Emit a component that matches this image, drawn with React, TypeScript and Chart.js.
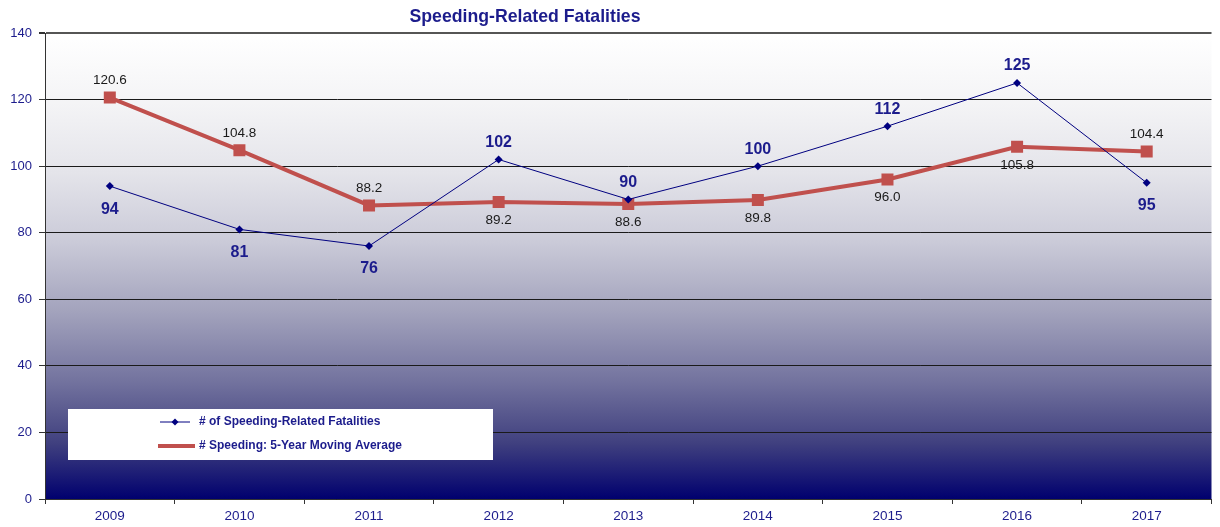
import React, { useEffect, useRef } from 'react';
import { Chart, registerables } from 'chart.js';

Chart.register(...registerables);

const years = ['2009', '2010', '2011', '2012', '2013', '2014', '2015', '2016', '2017'];
const fatalities = [94, 81, 76, 102, 90, 100, 112, 125, 95];
const movingAverage = [120.6, 104.8, 88.2, 89.2, 88.6, 89.8, 96.0, 105.8, 104.4];
const yMin = 0;
const yMax = 140;
const yStep = 20;
const titleText = 'Speeding-Related Fatalities';
const seriesNames = ['# of Speeding-Related Fatalities', '# Speeding: 5-Year Moving Average'];

const NAVY = '#000080';
const RED = '#c0504d';
const TEXT_NAVY = '#1c1c8c';
const FONT = '"Liberation Sans", Arial, sans-serif';

const bgPlugin = {
  id: 'bgGradient',
  beforeDraw(chart: any) {
    const { ctx, chartArea, width, height } = chart;
    ctx.save();
    ctx.fillStyle = '#ffffff';
    ctx.fillRect(0, 0, width, height);
    const g = ctx.createLinearGradient(0, chartArea.top, 0, chartArea.bottom);
    g.addColorStop(0, '#ffffff');
    g.addColorStop(0.15, '#f4f4f6');
    g.addColorStop(0.3, '#e4e4ea');
    g.addColorStop(0.45, '#cacad8');
    g.addColorStop(0.6, '#a2a2bc');
    g.addColorStop(0.75, '#72729e');
    g.addColorStop(0.88, '#40407f');
    g.addColorStop(1, '#00006e');
    ctx.fillStyle = g;
    ctx.fillRect(chartArea.left, chartArea.top, chartArea.right - chartArea.left, chartArea.bottom - chartArea.top);
    ctx.restore();
  },
};

const labelPlugin = {
  id: 'pointLabels',
  afterDatasetsDraw(chart: any) {
    const { ctx } = chart;
    const m0 = chart.getDatasetMeta(0);
    const m1 = chart.getDatasetMeta(1);
    ctx.save();
    ctx.textAlign = 'center';
    ctx.textBaseline = 'middle';
    m0.data.forEach((pt: any, i: number) => {
      const above = fatalities[i] > movingAverage[i];
      ctx.font = `bold 16px ${FONT}`;
      ctx.fillStyle = TEXT_NAVY;
      ctx.fillText(String(fatalities[i]), pt.x, above ? pt.y - 17 : pt.y + 23);
    });
    m1.data.forEach((pt: any, i: number) => {
      const above = movingAverage[i] > fatalities[i];
      ctx.font = `13.5px ${FONT}`;
      ctx.fillStyle = '#1a1a1a';
      ctx.fillText(movingAverage[i].toFixed(1), pt.x, above ? pt.y - 17 : pt.y + 18);
    });
    ctx.restore();
  },
};

const titleLegendPlugin = {
  id: 'titleLegend',
  afterDraw(chart: any) {
    const { ctx, chartArea } = chart;
    ctx.save();
    // title
    ctx.font = `bold 17.7px ${FONT}`;
    ctx.fillStyle = TEXT_NAVY;
    ctx.textAlign = 'center';
    ctx.textBaseline = 'middle';
    ctx.fillText(titleText, 525, 17);

    // legend box
    const bx = chartArea.left + 23;
    const by = chartArea.bottom - 90;
    const bw = 425;
    const bh = 51;
    ctx.fillStyle = '#ffffff';
    ctx.fillRect(bx, by, bw, bh);

    const y1 = by + 13;
    const y2 = by + 37;
    const lx = bx + 92;
    // series 1
    ctx.strokeStyle = NAVY;
    ctx.lineWidth = 1;
    ctx.beginPath();
    ctx.moveTo(lx, y1);
    ctx.lineTo(lx + 30, y1);
    ctx.stroke();
    ctx.fillStyle = NAVY;
    ctx.beginPath();
    ctx.moveTo(lx + 15, y1 - 3.5);
    ctx.lineTo(lx + 18.5, y1);
    ctx.lineTo(lx + 15, y1 + 3.5);
    ctx.lineTo(lx + 11.5, y1);
    ctx.closePath();
    ctx.fill();
    // series 2
    ctx.strokeStyle = RED;
    ctx.lineWidth = 4;
    ctx.beginPath();
    ctx.moveTo(lx - 2, y2);
    ctx.lineTo(lx + 35, y2);
    ctx.stroke();

    ctx.font = `bold 12px ${FONT}`;
    ctx.fillStyle = TEXT_NAVY;
    ctx.textAlign = 'left';
    ctx.fillText(seriesNames[0], lx + 39, y1);
    ctx.fillText(seriesNames[1], lx + 39, y2);
    ctx.restore();
  },
};

export default function App() {
  const canvasRef = useRef<HTMLCanvasElement | null>(null);

  useEffect(() => {
    document.body.style.margin = '0';
    const canvas = canvasRef.current;
    if (!canvas) return;
    const chart = new Chart(canvas, {
      type: 'line',
      data: {
        labels: years,
        datasets: [
          {
            label: seriesNames[0],
            data: fatalities,
            borderColor: NAVY,
            backgroundColor: NAVY,
            borderWidth: 1,
            pointStyle: 'rectRot',
            pointRadius: 4,
            pointBorderWidth: 0,
            pointBackgroundColor: NAVY,
            tension: 0,
            order: 1,
          },
          {
            label: seriesNames[1],
            data: movingAverage,
            borderColor: RED,
            backgroundColor: RED,
            borderWidth: 4,
            pointStyle: 'rect',
            pointRadius: 8.5,
            pointBorderWidth: 0,
            pointBackgroundColor: RED,
            tension: 0,
            order: 2,
          },
        ],
      },
      options: {
        animation: false,
        responsive: true,
        maintainAspectRatio: false,
        layout: { padding: { top: 33, right: 5, left: 0, bottom: 0 } },
        plugins: {
          legend: { display: false },
          title: { display: false },
          tooltip: { enabled: false },
        },
        scales: {
          x: {
            offset: true,
            grid: {
              offset: true,
              drawOnChartArea: false,
              drawTicks: true,
              tickLength: 5,
              color: '#333333',
            },
            border: { display: true, color: '#333333', width: 1 },
            ticks: {
              color: TEXT_NAVY,
              font: { family: FONT, size: 13.5 },
              padding: 4,
            },
            afterFit(scale: any) {
              scale.height = 28;
            },
          },
          y: {
            min: yMin,
            max: yMax,
            ticks: {
              stepSize: yStep,
              color: TEXT_NAVY,
              font: { family: FONT, size: 13 },
              padding: 7,
            },
            grid: {
              color: (c: any) => (c.tick && c.tick.value === yMax ? '#555555' : '#1a1a1a'),
              lineWidth: (c: any) => (c.tick && c.tick.value === yMax ? 2 : 1),
              tickLength: 6,
              tickColor: '#333333',
            },
            border: { display: true, color: '#333333', width: 1 },
            afterFit(scale: any) {
              scale.width = 45;
            },
          },
        },
      },
      plugins: [bgPlugin, labelPlugin, titleLegendPlugin],
    });
    return () => chart.destroy();
  }, []);

  return (
    <div style={{ position: 'relative', width: 1220, height: 527 }}>
      <canvas ref={canvasRef} />
    </div>
  );
}
